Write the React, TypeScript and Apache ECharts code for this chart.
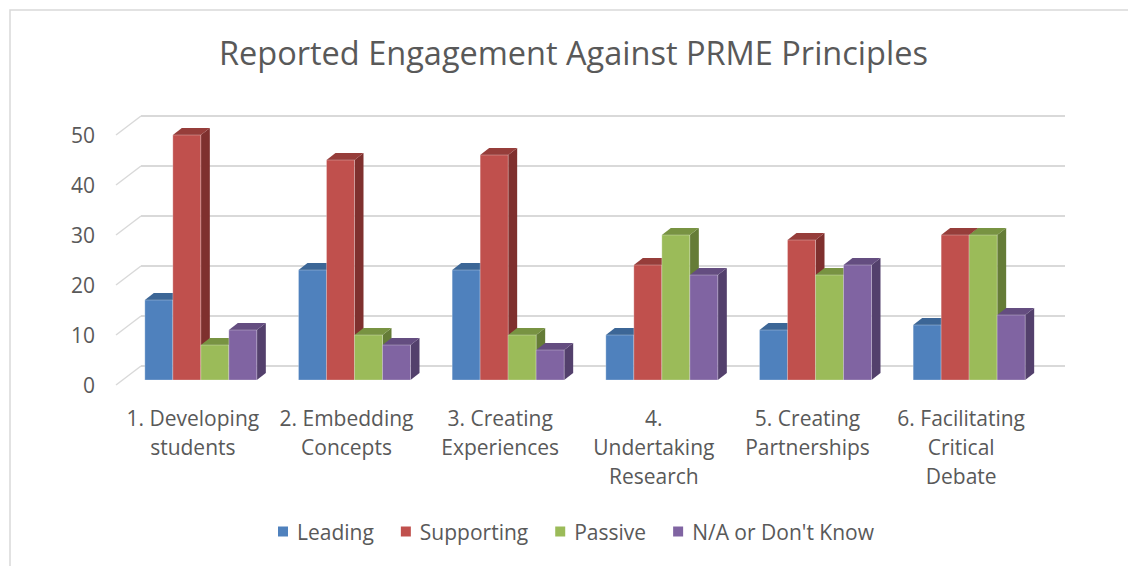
import React, { useEffect, useRef } from "react";
import * as echarts from "echarts";

const categories = [
  "1. Developing\nstudents",
  "2. Embedding\nConcepts",
  "3. Creating\nExperiences",
  "4.\nUndertaking\nResearch",
  "5. Creating\nPartnerships",
  "6. Facilitating\nCritical\nDebate",
];
const seriesNames = ["Leading", "Supporting", "Passive", "N/A or Don't Know"];
const leading = [16, 22, 22, 9, 10, 11];
const supporting = [49, 44, 45, 23, 28, 29];
const passive = [7, 9, 9, 29, 21, 29];
const naOrDontKnow = [10, 7, 6, 21, 23, 13];
const yTicks = [0, 10, 20, 30, 40, 50];

const seriesValues = [leading, supporting, passive, naOrDontKnow];
const frontColors = ["#4F81BD", "#C0504D", "#9BBB59", "#8064A2"];
const topColors = ["#3C6696", "#963D3A", "#789342", "#644D80"];
const sideColors = ["#385D8A", "#7F302E", "#657C37", "#53406C"];

const FONT = "'Open Sans', sans-serif";
const TEXT = "#595959";

// 3D geometry (pixels)
const BAR_W = 28;
const FRONT_DY = -5;
const BAR_DX = 9;
const BAR_DY = 7;
const WALL_DX = 25;
const WALL_DY = 19;

export default function App() {
  const ref = useRef<HTMLDivElement>(null);
  useEffect(() => {
    if (!ref.current) return;
    const chart = echarts.init(ref.current, null, { renderer: "svg" });

    const barSeries = seriesValues.map((vals, si) => ({
      type: "custom",
      name: seriesNames[si],
      color: frontColors[si],
      z: 3,
      data: vals.map((v, ci) => [ci, v]),
      renderItem: (params: any, api: any) => {
        const ci = api.value(0);
        const v = api.value(1);
        const top = api.coord([ci, v]);
        const base = api.coord([ci, 0]);
        const x = top[0] - 48 + si * BAR_W;
        const yTop = top[1] + FRONT_DY;
        const yBot = base[1] + FRONT_DY;
        return {
          type: "group",
          children: [
            {
              type: "polygon",
              shape: {
                points: [
                  [x + BAR_W, yTop],
                  [x + BAR_W + BAR_DX, yTop - BAR_DY],
                  [x + BAR_W + BAR_DX, yBot - BAR_DY],
                  [x + BAR_W, yBot],
                ],
              },
              style: { fill: sideColors[si] },
            },
            {
              type: "polygon",
              shape: {
                points: [
                  [x, yTop],
                  [x + BAR_DX, yTop - BAR_DY],
                  [x + BAR_W + BAR_DX, yTop - BAR_DY],
                  [x + BAR_W, yTop],
                ],
              },
              style: { fill: topColors[si] },
            },
            {
              type: "rect",
              shape: { x, y: yTop, width: BAR_W, height: yBot - yTop },
              style: { fill: frontColors[si], stroke: "rgba(255,255,255,0.35)", lineWidth: 0.8 },
            },
          ],
        };
      },
    }));

    const gridSeries = {
      type: "custom",
      name: "grid",
      silent: true,
      z: 1,
      data: yTicks.map((t) => [0, t]),
      renderItem: (params: any, api: any) => {
        const cs = params.coordSys;
        const p = api.coord([0, api.value(1)]);
        const y = p[1];
        const left = cs.x;
        const right = cs.x + cs.width;
        return {
          type: "group",
          children: [
            {
              type: "line",
              shape: { x1: left, y1: y, x2: left + WALL_DX, y2: y - WALL_DY },
              style: { stroke: "#d9d9d9", lineWidth: 1.5 },
            },
            {
              type: "line",
              shape: { x1: left + WALL_DX, y1: y - WALL_DY, x2: right + WALL_DX + 2, y2: y - WALL_DY },
              style: { stroke: "#d9d9d9", lineWidth: 2 },
            },
          ],
        };
      },
    };

    chart.setOption({
      animation: false,
      backgroundColor: "#ffffff",
      title: {
        text: "Reported Engagement Against PRME Principles",
        left: 214,
        top: 31,
        textStyle: { fontFamily: FONT, fontSize: 32.5, fontWeight: "normal", color: TEXT },
      },
      legend: {
        data: seriesNames,
        top: 516,
        left: 273,
        icon: "rect",
        itemWidth: 10,
        itemHeight: 10,
        itemGap: 27,
        textStyle: { fontFamily: FONT, fontSize: 21, color: TEXT, padding: [0, 0, 0, 4] },
      },
      graphic: [
        {
          type: "rect",
          shape: { x: 10, y: 10, width: 1200, height: 600 },
          style: { fill: "none", stroke: "#d9d9d9", lineWidth: 1.5 },
          silent: true,
        },
      ],
      grid: { left: 116, right: 90, top: 135, bottom: 181, containLabel: false },
      xAxis: {
        type: "category",
        data: categories,
        axisLine: { show: false },
        axisTick: { show: false },
        axisLabel: {
          interval: 0,
          margin: 18,
          fontFamily: FONT,
          fontSize: 21,
          lineHeight: 29,
          color: TEXT,
        },
      },
      yAxis: {
        type: "value",
        min: 0,
        max: 50,
        interval: 10,
        axisLine: { show: false },
        axisTick: { show: false },
        splitLine: { show: false },
        axisLabel: {
          margin: 21,
          fontFamily: FONT,
          fontSize: 21,
          color: TEXT,
          padding: [6, 0, 0, 0],
        },
      },
      series: [gridSeries, ...barSeries],
    });
    return () => chart.dispose();
  }, []);
  return (
    <div
      ref={ref}
      style={{ position: "fixed", left: 0, top: 0, width: 1128, height: 566 }}
    />
  );
}
